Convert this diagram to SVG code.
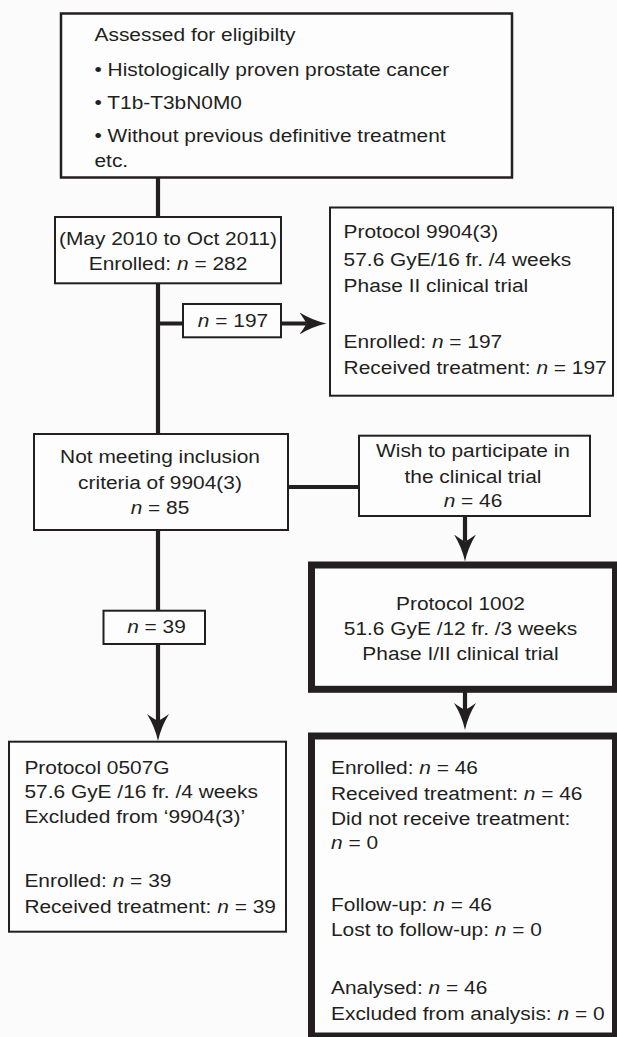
<svg xmlns="http://www.w3.org/2000/svg" width="617" height="1037" viewBox="0 0 617 1037">
<style>
.bg{fill:#fbfbfb}
.box{fill:#fdfdfd;stroke:#231f20;stroke-width:2}
.box2{fill:#fdfdfd;stroke:#231f20;stroke-width:2.5}
.bold{fill:#fdfdfd;stroke:#231f20;stroke-width:7}
.ln{fill:none;stroke:#231f20;stroke-width:4.2}
.t{font-family:"Liberation Sans",Arial,Helvetica,sans-serif;font-size:19px;fill:#231f20}
.c{text-anchor:middle}
.i{font-style:italic}
</style>
<defs>
<marker id="ah" markerUnits="userSpaceOnUse" markerWidth="27" markerHeight="23" viewBox="0 0 27 23" refX="7" refY="11.5" orient="auto">
<path d="M27,11.5 Q13,8.5 0,0.5 Q5,7.5 7,11.5 Q5,15.5 0,22.5 Q13,14.5 27,11.5 Z" fill="#231f20"/>
</marker>
</defs>
<rect class="bg" x="0" y="0" width="617" height="1037"/>
<g id="connectors">
<line class="ln" x1="158" y1="178" x2="158" y2="434"/>
<line class="ln" x1="158" y1="323.5" x2="306.5" y2="323.5" marker-end="url(#ah)"/>
<line class="ln" x1="288" y1="487" x2="359" y2="487"/>
<line class="ln" x1="465" y1="516" x2="465" y2="541.5" marker-end="url(#ah)"/>
<line class="ln" x1="158" y1="530" x2="158" y2="721" marker-end="url(#ah)"/>
<line class="ln" x1="465" y1="692" x2="465" y2="710" marker-end="url(#ah)"/>
</g>
<g id="assessed">
<rect class="box2" x="61" y="13.5" width="451" height="164"/>
<text class="t" transform="translate(94.5 0) scale(1.1 1)"><tspan x="0" y="40.7">Assessed for eligibilty</tspan><tspan x="0" y="76">• Histologically proven prostate cancer</tspan><tspan x="0" y="109">• T1b-T3bN0M0</tspan><tspan x="0" y="141.7">• Without previous definitive treatment</tspan><tspan x="0" y="166.7">etc.</tspan></text>
</g>
<g id="enrolled">
<rect class="box" x="55" y="217" width="226" height="66.3"/>
<text class="t c" transform="translate(168 0) scale(1.1 1)"><tspan x="0" y="245">(May 2010 to Oct 2011)</tspan><tspan x="0" y="270">Enrolled: <tspan class="i">n</tspan> = 282</tspan></text>
</g>
<g id="n197">
<rect class="box" x="183" y="304" width="98" height="33.3"/>
<text class="t c" transform="translate(233 0) scale(1.1 1)"><tspan x="0" y="327.3"><tspan class="i">n</tspan> = 197</tspan></text>
</g>
<g id="protocol9904">
<rect class="box" x="330" y="207.5" width="283" height="188.2"/>
<text class="t" transform="translate(343.6 0) scale(1.1 1)"><tspan x="0" y="238.3">Protocol 9904(3)</tspan><tspan x="0" y="265.7">57.6 GyE/16 fr. /4 weeks</tspan><tspan x="0" y="291.7">Phase II clinical trial</tspan><tspan x="0" y="348.3">Enrolled: <tspan class="i">n</tspan> = 197</tspan><tspan x="0" y="374">Received treatment: <tspan class="i">n</tspan> = 197</tspan></text>
</g>
<g id="notmeeting">
<rect class="box" x="34" y="434" width="254" height="96"/>
<text class="t c" transform="translate(160 0) scale(1.1 1)"><tspan x="0" y="463.3">Not meeting inclusion</tspan><tspan x="0" y="489">criteria of 9904(3)</tspan><tspan x="0" y="514.3"><tspan class="i">n</tspan> = 85</tspan></text>
</g>
<g id="wish">
<rect class="box" x="359" y="435.7" width="231" height="80.3"/>
<text class="t c" transform="translate(473 0) scale(1.1 1)"><tspan x="0" y="457.3">Wish to participate in</tspan><tspan x="0" y="482.7">the clinical trial</tspan><tspan x="0" y="507.3"><tspan class="i">n</tspan> = 46</tspan></text>
</g>
<g id="protocol1002">
<rect class="bold" x="311.5" y="565" width="304" height="124.3"/>
<text class="t c" transform="translate(460.5 0) scale(1.1 1)"><tspan x="0" y="610">Protocol 1002</tspan><tspan x="0" y="635">51.6 GyE /12 fr. /3 weeks</tspan><tspan x="0" y="660.5">Phase I/II clinical trial</tspan></text>
</g>
<g id="n39">
<rect class="box" x="103.5" y="610.7" width="101.5" height="33.3"/>
<text class="t c" transform="translate(156.5 0) scale(1.1 1)"><tspan x="0" y="633.3"><tspan class="i">n</tspan> = 39</tspan></text>
</g>
<g id="protocol0507G">
<rect class="box" x="9" y="741.7" width="277" height="190"/>
<text class="t" transform="translate(24.4 0) scale(1.1 1)"><tspan x="0" y="774">Protocol 0507G</tspan><tspan x="0" y="798.3">57.6 GyE /16 fr. /4 weeks</tspan><tspan x="0" y="823.3">Excluded from ‘9904(3)’</tspan><tspan x="0" y="887.3">Enrolled: <tspan class="i">n</tspan> = 39</tspan><tspan x="0" y="913.3">Received treatment: <tspan class="i">n</tspan> = 39</tspan></text>
</g>
<g id="outcome1002">
<rect class="bold" x="311.5" y="736" width="304" height="300"/>
<text class="t" transform="translate(331 0) scale(1.1 1)"><tspan x="0" y="774">Enrolled: <tspan class="i">n</tspan> = 46</tspan><tspan x="0" y="800">Received treatment: <tspan class="i">n</tspan> = 46</tspan><tspan x="0" y="825">Did not receive treatment:</tspan><tspan x="0" y="849.3"><tspan class="i">n</tspan> = 0</tspan><tspan x="0" y="911">Follow-up: <tspan class="i">n</tspan> = 46</tspan><tspan x="0" y="936">Lost to follow-up: <tspan class="i">n</tspan> = 0</tspan><tspan x="0" y="994">Analysed: <tspan class="i">n</tspan> = 46</tspan><tspan x="0" y="1020">Excluded from analysis: <tspan class="i">n</tspan> = 0</tspan></text>
</g>
</svg>
